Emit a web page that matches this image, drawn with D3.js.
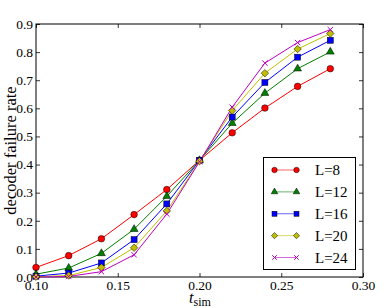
<!DOCTYPE html>
<html>
<head>
<meta charset="utf-8">
<script src="https://cdn.jsdelivr.net/npm/d3@7"></script>
<style>
  body { margin: 0; background: #fff; }
  svg text { font-family: "Liberation Serif", "DejaVu Serif", serif; }
</style>
</head>
<body>
<div class="canvas"></div>
<script>
// data
const tSim = [0.10, 0.12, 0.14, 0.16, 0.18, 0.20, 0.22, 0.24, 0.26, 0.28];
const rateL8 = [0.034, 0.076, 0.136, 0.222, 0.311, 0.415, 0.513, 0.601, 0.678, 0.741];
const rateL12 = [0.010, 0.032, 0.084, 0.170, 0.287, 0.415, 0.547, 0.654, 0.741, 0.801];
const rateL16 = [0.003, 0.014, 0.050, 0.133, 0.260, 0.415, 0.569, 0.692, 0.782, 0.842];
const rateL20 = [0.001, 0.005, 0.034, 0.104, 0.235, 0.412, 0.592, 0.725, 0.811, 0.866];
const rateL24 = [0.000, 0.002, 0.019, 0.079, 0.224, 0.410, 0.604, 0.761, 0.834, 0.880];
const seriesNames = ['L=8', 'L=12', 'L=16', 'L=20', 'L=24'];
const xTicks = [0.10, 0.15, 0.20, 0.25, 0.30];
const yTicks = [0.0, 0.1, 0.2, 0.3, 0.4, 0.5, 0.6, 0.7, 0.8, 0.9];

const series = [
  { name: seriesNames[0], values: rateL8, color: '#ff0000', marker: 'circle' },
  { name: seriesNames[1], values: rateL12, color: '#007f00', marker: 'triangle' },
  { name: seriesNames[2], values: rateL16, color: '#0000ff', marker: 'square' },
  { name: seriesNames[3], values: rateL20, color: '#bfbf00', marker: 'diamond' },
  { name: seriesNames[4], values: rateL24, color: '#bf00bf', marker: 'x' }
];

const width = 390, height = 308;
const plot = { left: 36, right: 363, top: 24, bottom: 277 };
const serif = '"Liberation Serif", "DejaVu Serif", serif';

const svg = d3.select('.canvas')
  .append('svg')
  .attr('width', width)
  .attr('height', height);

const x = d3.scaleLinear().domain([0.10, 0.30]).range([plot.left, plot.right]);
const y = d3.scaleLinear().domain([0, 0.9]).range([plot.bottom, plot.top]);

// ticks inside on all four sides
const tickLen = 4;
const bottomAxis = d3.axisBottom(x).tickValues(xTicks).tickSizeInner(-tickLen).tickSizeOuter(0)
  .tickPadding(3).tickFormat(d3.format('.2f'));
const topAxis = d3.axisTop(x).tickValues(xTicks).tickSizeInner(-tickLen).tickSizeOuter(0).tickFormat('');
const leftAxis = d3.axisLeft(y).tickValues(yTicks).tickSizeInner(-tickLen).tickSizeOuter(0)
  .tickPadding(3).tickFormat(d3.format('.1f'));
const rightAxis = d3.axisRight(y).tickValues(yTicks).tickSizeInner(-tickLen).tickSizeOuter(0).tickFormat('');

svg.append('g').attr('transform', `translate(0,${plot.bottom})`).call(bottomAxis);
svg.append('g').attr('transform', `translate(0,${plot.top})`).call(topAxis);
svg.append('g').attr('transform', `translate(${plot.left},0)`).call(leftAxis);
svg.append('g').attr('transform', `translate(${plot.right},0)`).call(rightAxis);

svg.selectAll('.domain').remove();
svg.selectAll('.tick line').attr('stroke', '#000').attr('stroke-width', 0.8);
svg.selectAll('.tick text').attr('font-size', 13.5).attr('fill', '#000')
  .attr('font-family', serif);

// frame
svg.append('rect')
  .attr('x', plot.left).attr('y', plot.top)
  .attr('width', plot.right - plot.left).attr('height', plot.bottom - plot.top)
  .attr('fill', 'none').attr('stroke', '#000').attr('stroke-width', 1);

// marker drawing
const drawMarker = (g, type, color, size) => {
  const s = size;
  if (type === 'circle') {
    g.append('circle').attr('r', s * 0.55).attr('fill', color).attr('stroke', '#000').attr('stroke-width', 0.5);
  } else if (type === 'triangle') {
    g.append('path').attr('d', d3.symbol().type(d3.symbolTriangle).size(s * s * 0.75)())
      .attr('fill', color).attr('stroke', '#000').attr('stroke-width', 0.5);
  } else if (type === 'square') {
    g.append('rect').attr('x', -s * 0.5).attr('y', -s * 0.5).attr('width', s).attr('height', s)
      .attr('fill', color).attr('stroke', '#000').attr('stroke-width', 0.5);
  } else if (type === 'diamond') {
    const r = s * 0.62;
    g.append('path').attr('d', `M0,${-r}L${r},0L0,${r}L${-r},0Z`)
      .attr('fill', color).attr('stroke', '#000').attr('stroke-width', 0.5);
  } else if (type === 'x') {
    const r = s * 0.45;
    g.append('path').attr('d', `M${-r},${-r}L${r},${r}M${-r},${r}L${r},${-r}`)
      .attr('stroke', color).attr('stroke-width', 1);
  }
};

const line = d3.line()
  .x((d, i) => x(tSim[i]))
  .y((d) => y(d));

const graph = svg.append('g');

series.forEach((s) => {
  graph.append('path')
    .attr('d', line(s.values))
    .attr('fill', 'none')
    .attr('stroke', s.color)
    .attr('stroke-width', 1);
});

series.forEach((s) => {
  s.values.forEach((v, i) => {
    const g = graph.append('g').attr('transform', `translate(${x(tSim[i])},${y(v)})`);
    drawMarker(g, s.marker, s.color, 6);
  });
});

// axis labels
svg.append('text')
  .attr('transform', `translate(16,${(plot.top + plot.bottom) / 2}) rotate(-90)`)
  .attr('text-anchor', 'middle')
  .attr('font-size', 16.5)
  .text('decoder failure rate');

const xl = svg.append('text')
  .attr('x', 200)
  .attr('y', 303)
  .attr('text-anchor', 'middle')
  .attr('font-size', 16);
xl.append('tspan').attr('font-style', 'italic').text('t');
xl.append('tspan').attr('font-size', 12).attr('dy', 2.5).text('sim');

// legend
const legend = svg.append('g');
legend.append('rect')
  .attr('x', 263.5).attr('y', 157.5)
  .attr('width', 92).attr('height', 112)
  .attr('fill', '#fff').attr('stroke', '#000').attr('stroke-width', 1);

const legendY = d3.scalePoint().domain(seriesNames).range([170, 257.5]);

series.forEach((s) => {
  const ly = legendY(s.name);
  legend.append('line')
    .attr('x1', 274.5).attr('x2', 296.5).attr('y1', ly).attr('y2', ly)
    .attr('stroke', s.color).attr('stroke-width', 1).attr('stroke-opacity', 0.6);
  [274.5, 296.5].forEach((mx) => {
    const g = legend.append('g').attr('transform', `translate(${mx},${ly})`);
    drawMarker(g, s.marker, s.color, 5);
  });
  legend.append('text')
    .attr('x', 315).attr('y', ly).attr('dy', '0.35em')
    .attr('font-size', 15)
    .text(s.name);
});
</script>
</body>
</html>
